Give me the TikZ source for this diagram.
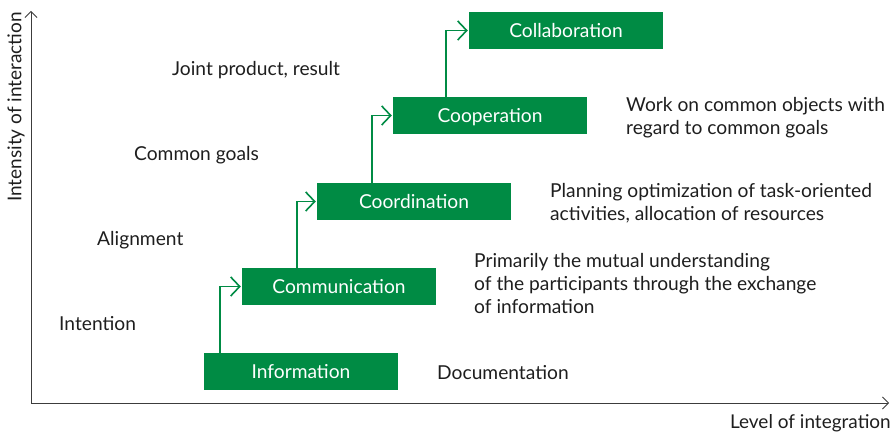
\documentclass[tikz,border=0pt]{standalone}
\usepackage{fontspec}
\setmainfont{Lato}
\usetikzlibrary{arrows.meta}
\definecolor{stepgreen}{RGB}{0,139,68}
\definecolor{axisgray}{RGB}{60,60,60}
\definecolor{textdark}{RGB}{30,30,30}
\begin{document}
\begin{tikzpicture}[x=1pt,y=-1pt,
  stage/.style={fill=stepgreen, minimum width=194pt, minimum height=37pt,
    inner sep=0pt, text=white, text height=14pt, text depth=0pt,
    font=\fontsize{19.2}{23}\selectfont},
  label/.style={text=textdark, font=\fontsize{19.2}{23}\selectfont, anchor=base west, inner sep=0pt},
  desc/.style={label, align=left},
  axis/.style={draw=axisgray, line width=0.8pt, -{Straight Barb[length=6pt,width=12pt]}},
  stepline/.style={draw=stepgreen, line width=1.6pt, -{Straight Barb[length=9pt,width=19pt]}}]
\useasboundingbox (0,0) rectangle (892,435);

% axes
\coordinate (origin) at (31,403);
\coordinate (ytip) at (31,11);
\coordinate (xtip) at (889,403);
\draw[axis] (origin) -- (ytip);
\draw[axis] (origin) -- (xtip);
\node[rotate=90, text=textdark, font=\fontsize{19}{23}\selectfont, anchor=east, inner sep=0pt] (ylab) at (16,12) {Intensity of interaction};
\node[text=textdark, font=\fontsize{19}{23}\selectfont, anchor=base east, inner sep=0pt] (xlab) at (891,429) {Level of integration};

% stages
\node[stage] (info)   at (301,371.5) {Information};
\node[stage] (comm)   at (339,286.5) {Communication};
\node[stage] (coord)  at (414,201.5) {Coordination};
\node[stage] (coop)   at (490,115.5) {Cooperation};
\node[stage] (collab) at (566,30.5)  {Collaboration};

% steps between stages
\draw[stepline] ([xshift=16pt]info.north west) |- ([xshift=-1pt]comm.west);
\draw[stepline] ([xshift=55pt]comm.north west) |- ([xshift=-1pt]coord.west);
\draw[stepline] ([xshift=55pt]coord.north west) |- ([xshift=-1pt]coop.west);
\draw[stepline] ([xshift=53pt]coop.north west) |- ([xshift=-1pt]collab.west);

% left-hand labels
\node[label] (l4) at (172,76)  {Joint product, result};
\node[label] (l3) at (134,161) {Common goals};
\node[label] (l2) at (97,246)  {Alignment};
\node[label] (l1) at (59,331)  {Intention};

% right-hand descriptions (base anchor sits on the last line)
\node[label] (d1) at (437,380) {Documentation};
\node[desc] (d2) at (474,314) {Primarily the mutual understanding\\of the participants through the exchange\\of information};
\node[desc] (d3) at (550,221) {Planning optimization of task-oriented\\activities, allocation of resources};
\node[desc] (d4) at (626,135) {Work on common objects with\\regard to common goals};
\end{tikzpicture}
\end{document}
